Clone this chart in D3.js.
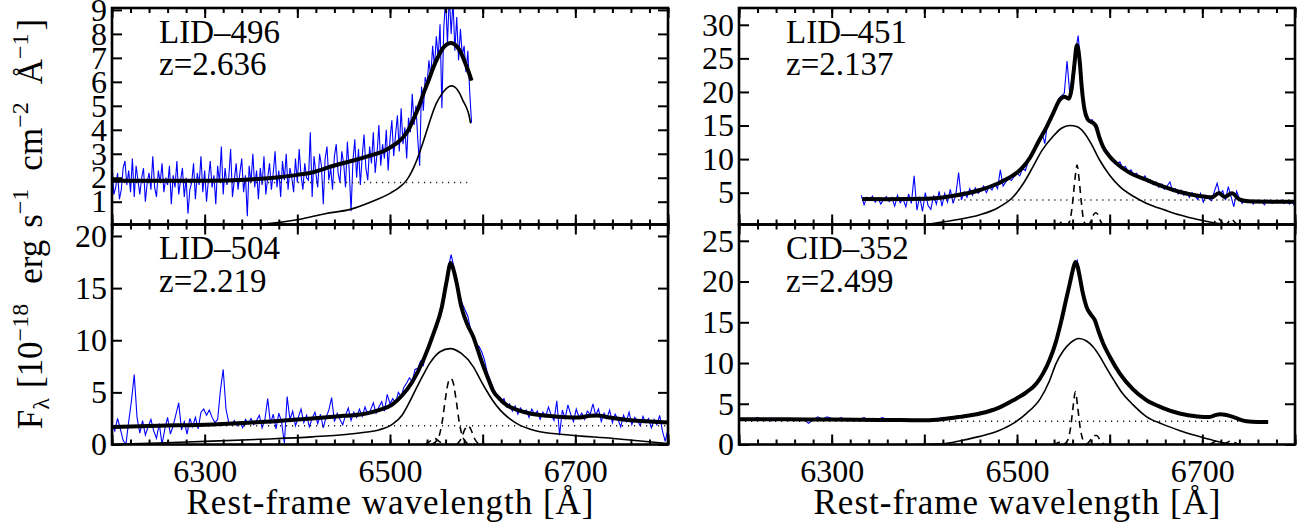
<!DOCTYPE html>
<html>
<head>
<meta charset="utf-8">
<script src="https://d3js.org/d3.v7.min.js"></script>
<style>
  body { margin: 0; background: #fff; }
</style>
</head>
<body>
<script>
// Halpha fits of four objects: observed spectrum (blue), total model (thick),
// broad component (thin), narrow lines (dashed), continuum (dotted)

var waveRange = [6200, 6800];
var xMajorTicks = [6200, 6300, 6400, 6500, 6600, 6700, 6800];
var xLabelTicks = [6300, 6500, 6700];
var xMinorTicks = d3.range(6200, 6801, 20);

var yRange496 = [0.05, 9.08], yTicks496 = [1, 2, 3, 4, 5, 6, 7, 8, 9];
var yRange451 = [0.26, 32.5], yTicks451 = [5, 10, 15, 20, 25, 30];
var yRange504 = [0, 21.1],   yTicks504 = [0, 5, 10, 15, 20];
var yRange352 = [0, 27],     yTicks352 = [0, 5, 10, 15, 20, 25];

// ---- LID-496 ----
var spec496Start = 6200, spec496Step = 2;
var spec496Flux = [
  2.6,1.3,1.6,2.2,1.1,1.5,2.4,2.7,1.7,2.3, 1.4,2.8,1.2,2.5,1.9,1.3,2.0,2.4,1.0,1.8,
  2.2,1.5,2.9,1.6,1.2,2.3,1.8,2.6,1.4,2.0, 1.7,2.5,0.9,2.1,1.6,2.7,1.3,1.9,2.4,1.2,
  2.0,0.5,1.5,1.8,2.6,1.1,2.2,1.7,2.9,1.4, 2.3,1.0,1.9,2.7,1.6,2.1,0.9,2.5,1.8,3.3,
  1.3,2.4,1.7,2.0,3.2,1.2,1.9,2.6,1.5,2.2, 2.8,1.4,2.1,0.4,2.5,1.8,3.0,1.6,2.3,1.1,
  2.4,1.7,2.9,1.3,2.0,2.6,1.5,2.2,3.1,1.6, 2.3,1.2,2.7,1.9,3.0,1.5,2.4,2.0,1.4,2.8,
  1.8,3.2,2.1,1.5,2.6,2.0,1.9,3.9,1.2,2.9, 2.2,1.6,3.0,2.5,0.9,2.8,3.3,1.9,2.4,1.5,
  2.9,3.4,2.2,1.8,3.1,2.6,1.6,3.5,2.3,0.6, 2.7,3.6,2.0,3.2,1.7,2.9,3.8,2.4,1.9,3.3,
  2.6,3.9,2.2,3.0,4.2,2.5,3.4,2.8,4.0,2.3, 3.6,4.4,2.9,3.8,4.6,3.1,4.9,3.4,4.1,2.8,
  4.5,3.9,5.5,4.2,5.0,3.6,2.5,5.8,4.8,6.2, 5.9,6.9,6.2,7.5,6.6,7.9,7.0,8.4,4.9,8.2,
  9.5,7.6,9.6,8.0,9.4,7.3,8.7,6.9,8.2,7.1, 7.5,6.4,7.3,5.6,4.3
];
var total496 = [[6200,1.88],[6250,1.87],[6300,1.87],[6350,1.93],[6380,2.02],[6403,2.14],[6416,2.22],
  [6439,2.5],[6475,2.88],[6495,3.15],[6505,3.38],[6514,3.68],[6520,4.0],[6525,4.42],[6531,4.95],
  [6536,5.5],[6542,6.1],[6547,6.62],[6552,7.05],[6557,7.4],[6562,7.58],[6566,7.62],[6570,7.55],
  [6575,7.33],[6579,7.0],[6582,6.7],[6585,6.4],[6588,6.05]];
var broad496 = [[6280,-0.05],[6350,0.03],[6403,0.27],[6430,0.5],[6457,0.68],[6480,1.0],[6500,1.35],
  [6510,1.6],[6518,1.9],[6524,2.3],[6529,2.74],[6535,3.4],[6540,4.0],[6545,4.6],[6550,5.1],[6556,5.5],
  [6561,5.73],[6566,5.83],[6570,5.78],[6575,5.53],[6579,5.2],[6582,4.97],[6585,4.65],[6587,4.27]];
var cont496 = [[6200,1.8],[6588,1.8]];

// ---- LID-451 ----
var spec451Start = 6332, spec451Step = 3;
var spec451Flux = [
  4.6,3.2,4.3,3.9,4.5,3.6,4.2,3.3,4.0,4.4, 3.7,4.3,3.0,4.6,3.5,4.1,2.9,4.8,3.4,7.5,
  2.4,4.4,2.2,5.0,3.1,2.5,4.6,3.3,5.2,3.0, 4.9,3.6,5.5,3.4,4.7,8.0,3.9,5.1,4.3,5.6,
  4.6,5.7,4.9,5.3,6.0,5.0,5.9,5.4,6.3,5.6, 8.4,6.0,6.6,7.1,6.8,7.4,7.9,7.5,8.6,8.3,
  9.6,10.3,11.2,11.9,12.9,13.9,12.3,15.4,16.0,17.2, 17.8,19.0,19.4,19.8,24.6,19.6,22.9,25.8,28.4,23.6,
  18.5,16.4,15.6,15.9,15.0,14.3,13.0,12.0,11.4,10.9, 10.2,9.9,9.3,9.6,8.7,8.9,8.1,8.4,7.6,7.9,
  7.3,7.0,7.5,6.6,6.9,6.2,6.6,5.8,6.3,5.5, 6.0,6.6,5.2,5.6,4.8,5.4,4.6,5.1,4.3,5.0,
  4.5,4.0,4.9,3.6,4.6,4.1,3.8,5.2,6.4,4.7, 5.3,3.9,5.9,4.4,2.9,5.2,4.1,3.4,4.0,3.5,
  3.8,3.3,3.9,3.5,3.7,3.2,3.9,3.6,3.4,3.8, 3.5,3.9,3.4,3.7,3.3,3.6,2.9
];
var total451 = [[6333,4.05],[6360,4.03],[6402,4.08],[6430,4.5],[6460,5.4],[6480,6.4],[6496,7.6],
  [6505,8.6],[6514,10.2],[6524,12.8],[6532,14.8],[6539,16.8],[6546,18.8],[6551,19.3],[6556,19.0],
  [6559,20.5],[6561.5,23.5],[6564.7,27.0],[6567.5,24.8],[6570,20.5],[6573,17.3],[6576,16.0],
  [6579,15.6],[6582,15.4],[6585.5,14.8],[6589,13.2],[6593,11.8],[6600,10.4],[6607,9.4],[6620,8.1],
  [6640,6.9],[6658,5.9],[6676,5.1],[6695,4.55],[6710,4.3],[6718,4.95],[6724,4.35],[6732,4.9],
  [6740,4.0],[6750,3.72],[6775,3.66],[6800,3.65]];
var broad451 = [[6385,0],[6400,0.25],[6430,0.85],[6460,1.7],[6480,2.8],[6496,4.4],[6507,6.4],
  [6517,8.8],[6527,11.3],[6539,13.4],[6548,14.6],[6557,15.0],[6565,14.8],[6572,14.0],[6580,12.3],
  [6589,9.9],[6600,7.6],[6611,5.9],[6625,4.5],[6640,3.4],[6660,2.4],[6676,1.67],[6695,1.0],
  [6712,0.52],[6740,0.05],[6760,0]];
var cont451 = [[6333,3.9],[6800,3.9]];
var narrow451 = [
  [[6553,0],[6557,0.8],[6560,3.5],[6562.5,7.0],[6564.8,9.1],[6567,7.0],[6569.5,3.5],[6572,0.8],[6576,0]],
  [[6542,0],[6546,0.4],[6549,0.7],[6552,0.4],[6556,0]],
  [[6576,0],[6580,0.8],[6583,1.8],[6585,2.0],[6587,1.8],[6590,0.8],[6594,0]],
  [[6709,0],[6713,0.6],[6717,1.2],[6721,0.6],[6725,0]],
  [[6724,0],[6728,0.6],[6731,1.1],[6735,0.6],[6739,0]]
];

// ---- LID-504 ----
var spec504Start = 6200, spec504Step = 3;
var spec504Flux = [
  1.9,1.3,2.5,1.5,0.4,0.0,2.2,4.2,6.7,2.6, 1.1,2.3,0.9,1.7,2.4,1.3,0.6,2.0,0.0,1.5,
  2.6,1.0,1.8,2.9,4.0,1.4,2.2,1.0,2.5,1.7, 2.6,1.5,3.1,3.4,2.8,3.3,2.6,2.1,2.4,5.2,
  7.2,3.4,2.1,1.9,2.3,1.8,2.2,1.6,2.4,2.0, 2.5,1.9,2.3,2.8,1.6,2.4,4.4,2.0,2.9,1.5,
  3.0,2.2,0.1,4.6,2.4,3.2,1.8,2.6,3.4,2.1, 2.8,1.7,2.5,3.1,2.0,2.9,1.6,2.6,3.3,4.5,
  2.2,3.0,2.4,1.9,2.8,3.5,2.3,3.1,2.6,3.4, 2.7,3.6,2.9,3.3,4.0,3.0,3.6,4.1,3.2,4.8,
  3.9,4.4,4.0,5.0,4.6,5.5,5.9,6.4,6.0,7.2, 7.3,8.0,7.6,8.9,9.6,10.3,10.9,11.8,12.5,13.6,
  15.2,17.0,18.2,17.0,15.6,14.4,13.5,12.9,12.3,11.0, 10.4,9.6,9.4,8.9,8.1,6.9,6.2,5.5,4.9,4.6,
  4.1,4.4,3.6,3.9,3.2,3.7,2.9,3.5,3.0,3.3, 2.6,3.4,2.9,3.2,2.4,3.1,2.7,3.6,2.8,2.3,
  4.2,0.9,3.3,2.5,3.8,2.9,2.2,3.4,2.6,3.0, 2.4,3.2,2.9,3.9,2.8,3.4,2.2,3.0,2.5,3.3,
  2.1,2.9,2.4,1.7,2.8,2.2,3.1,1.9,2.6,2.3, 1.8,2.7,2.1,2.5,1.6,2.4,1.9,2.8,1.3,0.3,
  1.5
];
var total504 = [[6200,1.69],[6250,1.8],[6308,1.92],[6360,2.15],[6416,2.5],[6450,2.75],[6470,2.9],
  [6488,3.3],[6502,3.8],[6513,4.7],[6524,6.0],[6536,8.1],[6547,10.65],[6556,13.2],[6561,15.6],
  [6565.5,17.4],[6569,16.6],[6572,15.45],[6577,13.2],[6583,11.6],[6590,10.3],[6595,9.0],[6601,7.45],
  [6606,6.3],[6611,5.2],[6618,4.4],[6626,3.77],[6638,3.3],[6651,2.97],[6670,2.75],[6690,2.62],
  [6705,2.6],[6716,2.75],[6724,2.78],[6735,2.62],[6759,2.33],[6780,2.2],[6800,2.11]];
var broad504 = [[6200,0],[6250,0.15],[6308,0.32],[6360,0.5],[6416,0.73],[6471,1.15],[6488,1.4],
  [6502,1.9],[6513,2.8],[6520,3.9],[6529,5.5],[6536,6.7],[6543,7.8],[6554,8.9],[6565,9.2],[6577,8.73],
  [6590,7.45],[6597,6.3],[6604,5.2],[6611,4.2],[6619,3.3],[6628,2.55],[6637,2.0],[6658,1.3],
  [6687,0.96],[6741,0.58],[6800,0.1]];
var cont504 = [[6200,1.8],[6800,1.8]];
var narrow504 = [
  [[6545,0],[6552,0.6],[6556,2.0],[6560,4.5],[6563,6.0],[6565.5,6.33],[6568,6.0],[6571,4.5],[6575,2.0],[6579,0.6],[6586,0]],
  [[6538,0],[6543,0.3],[6548,0.6],[6553,0.3],[6558,0]],
  [[6572,0],[6577,0.6],[6581,1.5],[6584,1.8],[6587,1.5],[6591,0.6],[6596,0]]
];

// ---- CID-352 ----
var spec352Start = 6200, spec352Step = 5;
var spec352Flux = [
  3.1,3.2,3.0,3.1,3.3,3.0,3.1,2.9,3.2,3.1, 3.0,3.2,3.1,3.0,3.1,2.6,3.0,3.4,3.1,3.4,
  3.2,3.0,3.3,3.1,3.2,3.0,3.1,3.3,3.0,3.2, 3.1,3.3,3.0,3.1,2.9,3.1,3.0,2.9,3.1,3.0,
  3.0,3.05,3.1,3.15,3.3,3.25,3.4,3.45,3.5,3.65, 3.7,3.8,3.95,4.0,4.25,4.4,4.6,4.85,5.2,5.5,
  5.7,6.0,6.5,6.9,7.4,8.2,9.1,10.5,12.0,14.0, 16.4,18.7,21.3,22.6,19.6,17.0,16.0,15.0,13.4,11.8,
  10.9,9.8,8.9,8.2,7.6,6.9,6.3,5.9,5.5,5.1, 4.8,4.5,4.3,4.1,3.9,3.8,3.7,3.6,3.5,3.45,
  3.4,3.35,3.5,3.65,3.7,3.6,3.45,3.3,3.05,2.85, 2.75,2.8,2.72,2.78,2.75
];
var total352 = [[6200,3.1],[6250,3.09],[6300,3.07],[6350,3.02],[6402,2.98],[6420,3.12],[6438,3.39],
  [6460,3.8],[6480,4.5],[6496,5.44],[6510,6.4],[6521,7.5],[6528,8.7],[6535,10.35],[6542,12.6],
  [6548,15.26],[6553,17.8],[6557,19.77],[6560,21.3],[6563,22.4],[6565.5,21.8],[6567.7,20.6],
  [6571,18.6],[6575,16.9],[6580,15.9],[6584,15.26],[6588,13.9],[6593,12.4],[6600,10.8],[6611,8.7],
  [6625,6.8],[6639.6,5.44],[6657,4.5],[6675.5,3.8],[6695,3.45],[6708,3.38],[6714,3.6],[6719,3.71],
  [6726,3.62],[6735,3.3],[6747.5,2.85],[6760,2.77],[6771,2.77]];
var broad352 = [[6390,0],[6420,0.1],[6440,0.5],[6460,1.0],[6480,1.7],[6496,2.6],[6510,3.8],
  [6525,5.6],[6535,7.8],[6542,9.9],[6550,11.5],[6557,12.4],[6567,13.0],[6575,12.7],[6582,12.0],
  [6590,10.7],[6596,9.5],[6605,7.8],[6614,6.25],[6625,4.9],[6640,3.4],[6657,2.5],[6676,1.7],
  [6693,1.1],[6712,0.5],[6733,0.05],[6745,0]];
var cont352 = [[6200,2.85],[6771,2.85]];
var narrow352 = [
  [[6551,0],[6555,0.6],[6558,2.2],[6560.5,4.6],[6563,6.46],[6565.5,4.6],[6568,2.2],[6571,0.6],[6575,0]],
  [[6539,0],[6543,0.15],[6547,0.3],[6551,0.15],[6555,0]],
  [[6575,0],[6579,0.5],[6583,1.1],[6586,1.1],[6590,0.5],[6594,0]],
  [[6708,0],[6712,0.25],[6716,0.45],[6720,0.25],[6724,0]],
  [[6723,0],[6727,0.25],[6731,0.45],[6735,0.25],[6739,0]]
];

var panels = [
  {id: "p496", label: "LID–496", redshift: "z=2.636", col: 0, row: 0, yRange: yRange496, yTicks: yTicks496,
   start: spec496Start, step: spec496Step, flux: spec496Flux, total: total496, broad: broad496, cont: cont496, narrow: []},
  {id: "p451", label: "LID–451", redshift: "z=2.137", col: 1, row: 0, yRange: yRange451, yTicks: yTicks451,
   start: spec451Start, step: spec451Step, flux: spec451Flux, total: total451, broad: broad451, cont: cont451, narrow: narrow451},
  {id: "p504", label: "LID–504", redshift: "z=2.219", col: 0, row: 1, yRange: yRange504, yTicks: yTicks504,
   start: spec504Start, step: spec504Step, flux: spec504Flux, total: total504, broad: broad504, cont: cont504, narrow: narrow504},
  {id: "p352", label: "CID–352", redshift: "z=2.499", col: 1, row: 1, yRange: yRange352, yTicks: yTicks352,
   start: spec352Start, step: spec352Step, flux: spec352Flux, total: total352, broad: broad352, cont: cont352, narrow: narrow352}
];

// layout of the 2x2 grid
var colX = [[112, 668], [739, 1295]];
var rowY = [[8, 224.5], [224.5, 444.5]];
var SERIF = "'Liberation Serif', 'Times New Roman', Times, 'DejaVu Serif', 'Noto Serif', serif";

var svg = d3.select("body").append("svg")
  .attr("width", 1303)
  .attr("height", 524)
  .style("font-family", SERIF);

function styleAxis(sel) {
  sel.select(".domain").remove();
  sel.selectAll(".tick line").attr("stroke-width", 2);
  sel.attr("font-family", null).attr("font-size", 32);
  sel.selectAll("text").style("font-family", SERIF);
}

function drawPanel(p) {
  var x0 = colX[p.col][0], x1 = colX[p.col][1];
  var y0 = rowY[p.row][0], y1 = rowY[p.row][1];
  var x = d3.scaleLinear().domain(waveRange).range([x0, x1]);
  var y = d3.scaleLinear().domain(p.yRange).range([y1, y0]);

  svg.append("clipPath").attr("id", "clip-" + p.id)
    .append("rect").attr("x", x0).attr("y", y0).attr("width", x1 - x0).attr("height", y1 - y0);

  var plot = svg.append("g").attr("clip-path", "url(#clip-" + p.id + ")");
  var line = d3.line().x(function(d) { return x(d[0]); }).y(function(d) { return y(d[1]); });
  var smooth = d3.line().x(function(d) { return x(d[0]); }).y(function(d) { return y(d[1]); })
    .curve(d3.curveMonotoneX);

  var spec = p.flux.map(function(f, i) { return [p.start + i * p.step, f]; });
  plot.append("path").datum(spec).attr("d", line)
    .attr("fill", "none").attr("stroke", "#0000ff").attr("stroke-width", 1.1);

  plot.append("path").datum(p.cont).attr("d", line)
    .attr("fill", "none").attr("stroke", "#222").attr("stroke-width", 1.4)
    .attr("stroke-dasharray", "1.2,4.8");

  plot.append("path").datum(p.broad).attr("d", smooth)
    .attr("fill", "none").attr("stroke", "#000").attr("stroke-width", 1.6);

  p.narrow.forEach(function(n) {
    plot.append("path").datum(n).attr("d", smooth)
      .attr("fill", "none").attr("stroke", "#000").attr("stroke-width", 1.6)
      .attr("stroke-dasharray", "7,5");
  });

  plot.append("path").datum(p.total).attr("d", smooth)
    .attr("fill", "none").attr("stroke", "#000").attr("stroke-width", 4)
    .attr("stroke-linejoin", "round");

  // ticks on all four sides, pointing inwards
  svg.append("g").attr("transform", "translate(0," + y1 + ")")
    .call(d3.axisBottom(x).tickValues(xMinorTicks).tickSize(-5).tickFormat(""))
    .call(styleAxis);
  svg.append("g").attr("transform", "translate(0," + y1 + ")")
    .call(d3.axisBottom(x).tickValues(xMajorTicks).tickSize(-10).tickPadding(15)
      .tickFormat(function(d) { return (p.row == 1 && xLabelTicks.indexOf(d) >= 0) ? d : ""; }))
    .call(styleAxis);
  svg.append("g").attr("transform", "translate(0," + y0 + ")")
    .call(d3.axisTop(x).tickValues(xMinorTicks).tickSize(-5).tickFormat(""))
    .call(styleAxis);
  svg.append("g").attr("transform", "translate(0," + y0 + ")")
    .call(d3.axisTop(x).tickValues(xMajorTicks).tickSize(-10).tickFormat(""))
    .call(styleAxis);
  svg.append("g").attr("transform", "translate(" + x0 + ",0)")
    .call(d3.axisLeft(y).tickValues(p.yTicks).tickSize(-10).tickPadding(5).tickFormat(d3.format("d")))
    .call(styleAxis);
  svg.append("g").attr("transform", "translate(" + x1 + ",0)")
    .call(d3.axisRight(y).tickValues(p.yTicks).tickSize(-10).tickFormat(""))
    .call(styleAxis);

  svg.append("rect").attr("x", x0).attr("y", y0).attr("width", x1 - x0).attr("height", y1 - y0)
    .attr("fill", "none").attr("stroke", "#000").attr("stroke-width", 2.6);

  svg.append("text").attr("x", x0 + 47).attr("y", y0 + 34.5).attr("font-size", 33)
    .style("font-family", SERIF).text(p.label);
  svg.append("text").attr("x", x0 + 47).attr("y", y0 + 67).attr("font-size", 33)
    .style("font-family", SERIF).text(p.redshift);
}

panels.forEach(drawPanel);

// x axis titles
colX.forEach(function(c) {
  svg.append("text").attr("x", (c[0] + c[1]) / 2).attr("y", 514)
    .attr("text-anchor", "middle").attr("font-size", 35)
    .style("font-family", SERIF)
    .attr("textLength", 407).attr("lengthAdjust", "spacing")
    .text("Rest-frame wavelength [Å]");
});

// y axis title
var yt = svg.append("text").attr("transform", "translate(42,224) rotate(-90)")
  .attr("text-anchor", "middle").attr("font-size", 35).style("font-family", SERIF);
yt.append("tspan").text("F");
yt.append("tspan").attr("font-size", 24).attr("dy", 7).text("λ");
yt.append("tspan").attr("dy", -7).attr("dx", 10).text("[10");
yt.append("tspan").attr("font-size", 24).attr("dy", -14).text("−18");
yt.append("tspan").attr("dy", 14).attr("dx", 20).text("erg");
yt.append("tspan").attr("dx", 12).text("s");
yt.append("tspan").attr("font-size", 24).attr("dy", -14).text("−1");
yt.append("tspan").attr("dy", 14).attr("dx", 18).text("cm");
yt.append("tspan").attr("font-size", 24).attr("dy", -14).text("−2");
yt.append("tspan").attr("dy", 14).attr("dx", 18).text("Å");
yt.append("tspan").attr("font-size", 24).attr("dy", -14).text("−1");
yt.append("tspan").attr("dy", 14).attr("dx", 3).text("]");
</script>
</body>
</html>
